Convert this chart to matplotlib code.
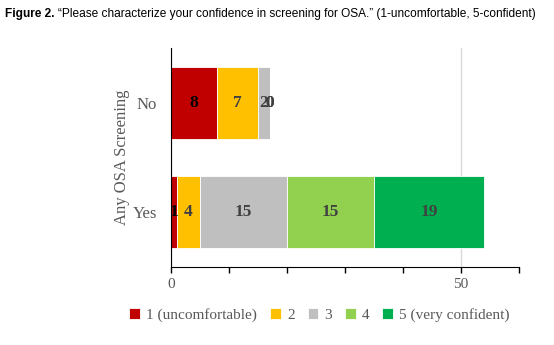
import matplotlib.pyplot as plt
from matplotlib.ticker import MultipleLocator, FixedLocator

# ---- data ----
groups = ["Yes", "No"]
levels = ["1 (uncomfortable)", "2", "3", "4", "5 (very confident)"]
counts = {
    "Yes": [1, 4, 15, 15, 19],
    "No": [8, 7, 2, 0, 0],
}
colors = ["#C00000", "#FFC000", "#BFBFBF", "#92D050", "#00B050"]

serif = "Liberation Serif"
grey = "#595959"

fig = plt.figure(figsize=(5.54, 3.45), dpi=100)
ax = fig.add_axes([0.3087, 0.226, 0.628, 0.635])

left = [0, 0]
for i, lev in enumerate(levels):
    vals = [counts[g][i] for g in groups]
    bars = ax.barh(range(len(groups)), vals, left=left, height=0.66,
                   color=colors[i], edgecolor="white", linewidth=0.6,
                   label=lev, zorder=3)
    for b, v in zip(bars, vals):
        cx = b.get_x() + b.get_width() / 2
        ax.text(cx, b.get_y() + b.get_height() / 2, str(v),
                ha="center", va="center", fontsize=12.5, fontweight="bold",
                family=serif, color="#000000" if i == 0 else "#404040",
                zorder=4)
    left = [l + v for l, v in zip(left, vals)]

ax.set_xlim(0, 60)
ax.set_ylim(-0.5, 1.5)
ax.xaxis.set_major_locator(FixedLocator([0, 50]))
ax.xaxis.set_minor_locator(MultipleLocator(10))
ax.tick_params(axis="x", which="both", direction="out", length=4,
               width=1, color="black", labelsize=11, labelcolor=grey, pad=4)
ax.grid(axis="x", which="major", color="#D9D9D9", linewidth=1, zorder=0)
for lab in ax.get_xticklabels():
    lab.set_family(serif)

ax.set_yticks(range(len(groups)))
ax.set_yticklabels(groups, family=serif, fontsize=12, color=grey)
ax.tick_params(axis="y", length=0, pad=10)
ax.set_ylabel("Any OSA Screening", family=serif, fontsize=12, color=grey,
              labelpad=2)

for s in ["top", "right"]:
    ax.spines[s].set_visible(False)
ax.spines["left"].set_color("black")
ax.spines["bottom"].set_color("black")
ax.spines["left"].set_zorder(5)

leg = ax.legend(loc="upper center", bbox_to_anchor=(0.427, -0.125), ncol=5,
                frameon=False, prop={"family": serif, "size": 11},
                handlelength=0.7, handleheight=0.7, handletextpad=0.4,
                columnspacing=0.85)
for t in leg.get_texts():
    t.set_color(grey)

t1 = fig.text(0.009, 0.958, "Figure 2.", fontsize=8.6, fontweight="bold",
              family="Liberation Sans", va="center")
fig.canvas.draw()
bb = t1.get_window_extent()
x2 = (bb.x1 + 4) / fig.bbox.width
fig.text(x2, 0.958,
         "\u201cPlease characterize your confidence in screening for OSA.\u201d"
         " (1-uncomfortable, 5-confident)",
         fontsize=8.6, family="Liberation Sans", va="center")

fig.savefig("out.png", dpi=100)
